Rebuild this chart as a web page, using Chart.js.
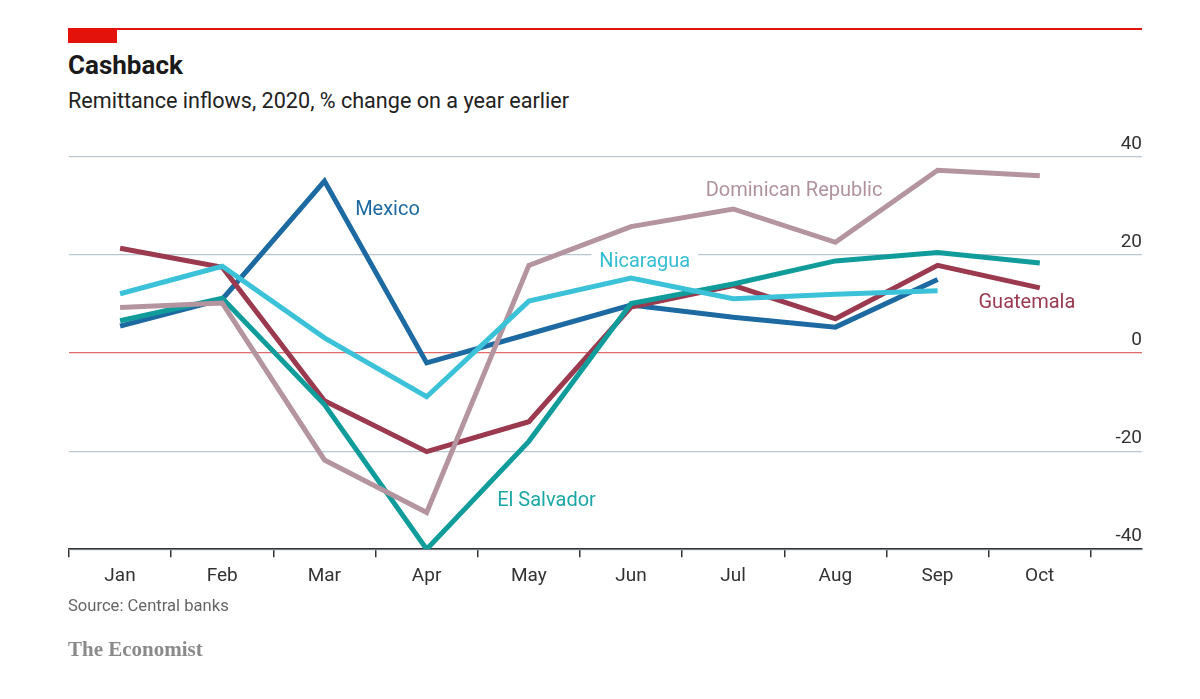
<!DOCTYPE html>
<html lang="en">
<head>
  <meta charset="UTF-8">
  <title>Cashback</title>
  <script src="https://cdn.jsdelivr.net/npm/chart.js@4.4.0/dist/chart.umd.min.js"></script>
  <style>
    body { margin: 0; background: #fff; font-family: Roboto, sans-serif; }
    #page { position: relative; width: 1200px; height: 699px; overflow: hidden; }
    .red { position: absolute; background: #e3120b; }
    #title { position: absolute; left: 68px; top: 50px; font-size: 26px; font-weight: bold; color: #1a1a1a; }
    #subtitle { position: absolute; left: 68px; top: 88px; font-size: 21.6px; color: #222; }
    #source { position: absolute; left: 68px; top: 596px; font-size: 16.6px; color: #666; }
    #brand { position: absolute; left: 68px; top: 637px; font-size: 21px; color: #8a8a8a; font-family: "Liberation Serif", "DejaVu Serif", serif; font-weight: bold; }
    #chart-box { position: absolute; left: 0; top: 0; width: 1200px; height: 699px; }
  </style>
</head>
<body>
<div id="page">
  <div class="red" style="left:68px; top:28px; width:1074px; height:2px;"></div>
  <div class="red" style="left:68px; top:28px; width:49px; height:15px;"></div>
  <div id="title">Cashback</div>
  <div id="subtitle">Remittance inflows, 2020, % change on a year earlier</div>
  <div id="chart-box"><canvas id="chart"></canvas></div>
  <div id="source">Source: Central banks</div>
  <div id="brand">The Economist</div>
</div>

<script>
  // months and series, % change on a year earlier
  var months = ['Jan', 'Feb', 'Mar', 'Apr', 'May', 'Jun', 'Jul', 'Aug', 'Sep', 'Oct'];
  var mexico      = [5.5, 11, 35.1, -2, 3.9, 9.8, 7.3, 5.3, 15];
  var guatemala   = [21.4, 17.5, -9.7, -20.1, -14, 9.4, 13.8, 7, 17.9, 13.3];
  var elSalvador  = [6.6, 11.2, -10.5, -40, -18, 10.1, 14.1, 18.8, 20.5, 18.4];
  var dominican   = [9.3, 10.2, -21.8, -32.5, 17.9, 25.8, 29.4, 22.6, 37.3, 36.2];
  var nicaragua   = [12.1, 17.7, 3.1, -8.9, 10.6, 15.3, 11.1, 12, 12.7];

  var yTicks = [-40, -20, 0, 20, 40];

  // direct labels: text, anchor in data units (left edge, middle)
  var seriesLabels = [
    { text: 'Mexico', x: 2.3, y: 29.2, color: '#1d6aa2' },
    { text: 'Dominican Republic', x: 5.73, y: 33.1, color: '#b0929d' },
    { text: 'Nicaragua', x: 4.69, y: 18.6, color: '#35bdd3', bg: true },
    { text: 'Guatemala', x: 8.4, y: 10.2, color: '#9a3a4e' },
    { text: 'El Salvador', x: 3.69, y: -30.1, color: '#1aa7a6' }
  ];

  function toPoints(arr) {
    return arr.map(function(v, i) { return { x: i, y: v }; });
  }

  function lineSet(label, arr, color) {
    return {
      label: label,
      data: toPoints(arr),
      borderColor: color,
      backgroundColor: color,
      borderWidth: 5,
      pointRadius: 0,
      tension: 0,
      fill: false,
      borderJoinStyle: 'miter',
      borderCapStyle: 'butt'
    };
  }

  var labelPlugin = {
    id: 'seriesLabels',
    beforeDatasetsDraw: function(chart) {
      var ctx = chart.ctx;
      var xs = chart.scales.x, ys = chart.scales.y;
      ctx.save();
      ctx.font = '20px Roboto, sans-serif';
      ctx.textBaseline = 'middle';
      ctx.textAlign = 'left';
      seriesLabels.forEach(function(l) {
        var px = xs.getPixelForValue(l.x);
        var py = ys.getPixelForValue(l.y);
        if (l.bg) {
          var w = ctx.measureText(l.text).width;
          ctx.fillStyle = '#fff';
          ctx.fillRect(px - 8, py - 12, w + 16, 24);
        }
        ctx.fillStyle = l.color;
        ctx.fillText(l.text, px, py);
      });
      ctx.restore();
    }
  };

  var chart = new Chart(document.getElementById('chart'), {
    type: 'line',
    data: {
      datasets: [
        lineSet('Nicaragua', nicaragua, '#3cc2d8'),
        lineSet('Dominican Republic', dominican, '#b3949f'),
        lineSet('El Salvador', elSalvador, '#109c9b'),
        lineSet('Guatemala', guatemala, '#9b3a4f'),
        lineSet('Mexico', mexico, '#1d6aa2')
      ]
    },
    options: {
      responsive: true,
      maintainAspectRatio: false,
      animation: false,
      layout: { padding: { left: 69, right: 58, top: 157, bottom: 103 } },
      plugins: { legend: { display: false }, tooltip: { enabled: false } },
      scales: {
        x: {
          type: 'linear',
          min: -0.5,
          max: 10,
          afterBuildTicks: function(scale) {
            scale.ticks = months.map(function(m, i) { return { value: i - 0.5 }; });
            scale.ticks.push({ value: months.length - 0.5 });
          },
          ticks: {
            autoSkip: false,
            maxRotation: 0,
            padding: 8,
            labelOffset: 51,
            color: '#333',
            font: { family: 'Roboto, sans-serif', size: 19 },
            callback: function(v) { return months[v + 0.5] || ''; }
          },
          grid: { drawOnChartArea: false, drawTicks: true, tickLength: 8, color: '#333', lineWidth: 1.5 },
          border: { display: true, color: '#333', width: 1.5 }
        },
        y: {
          position: 'right',
          min: -40,
          max: 40,
          afterBuildTicks: function(scale) {
            scale.ticks = yTicks.map(function(v) { return { value: v }; });
          },
          ticks: {
            mirror: true,
            padding: 0,
            labelOffset: -13,
            color: '#333',
            font: { family: 'Roboto, sans-serif', size: 19 }
          },
          grid: {
            drawTicks: false,
            lineWidth: 1.3,
            color: function(c) { return c.tick && c.tick.value === 0 ? '#e06a6a' : '#b9c7d1'; }
          },
          border: { display: false }
        }
      }
    },
    plugins: [labelPlugin]
  });
</script>
</body>
</html>
